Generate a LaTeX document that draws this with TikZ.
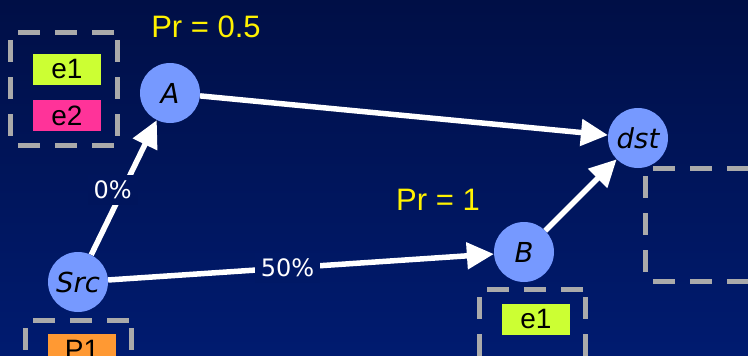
\documentclass[tikz,border=0pt]{standalone}
\usepackage{fontspec}
\setmainfont{Liberation Sans}
\newfontfamily\labelfont{DejaVu Sans}
\usetikzlibrary{arrows.meta}

\definecolor{bgtop}{RGB}{0,15,70}
\definecolor{bgbot}{RGB}{0,27,112}
\colorlet{bgmidA}{bgtop!47!bgbot}
\colorlet{bgmidB}{bgtop!25!bgbot}
\definecolor{hostblue}{RGB}{118,153,255}
\definecolor{tagone}{RGB}{204,255,51}
\definecolor{tagtwo}{RGB}{255,51,153}
\definecolor{tagp}{RGB}{255,153,51}
\definecolor{boxgray}{RGB}{170,170,170}

\tikzset{
  host/.style={circle, fill=hostblue, minimum size=60pt, inner sep=0pt,
    font=\labelfont\itshape\fontsize{27.5}{32}\selectfont},
  link/.style={white, line width=5.5pt, -{Triangle[length=27pt 0 0,width=26pt 0 0]}},
  pct/.style={text=white, inner sep=6pt, font=\labelfont\fontsize{24}{28}\selectfont},
  prob/.style={text=yellow, font=\fontsize{31}{36}\selectfont},
  tag/.style={minimum width=68pt, minimum height=31pt, inner sep=0pt,
    font=\fontsize{28}{32}\selectfont},
  grp/.style={draw=boxgray, line width=5pt, dash pattern=on 22pt off 15pt, dash phase=29pt},
}

% dashed group box, one side at a time so each side starts with a gap
\newcommand{\grpbox}[4]{%
  \draw[grp] (#1,#2) -- (#3,#2) (#3,#2) -- (#3,#4) (#1,#4) -- (#3,#4) (#1,#2) -- (#1,#4);}

\begin{document}
\begin{tikzpicture}[x=1pt, y=-1pt]
	% Background
	\shade[top color=bgtop, bottom color=bgbot] (0,0) rectangle (748,356);
	\useasboundingbox (0,0) rectangle (748,356);
	\clip (0,0) rectangle (748,356);
	
	% Groups
	\grpbox{10}{32}{117}{145}
	\grpbox{25}{320}{131}{394}
	\grpbox{479}{289}{585}{400}
	\grpbox{645}{168}{790}{281}
	
	% Tags
	\node[tag, fill=tagone] (e1a) at (67,69.5) {e1};
	\node[tag, fill=tagtwo] (e2a) at (67,115.5) {e2};
	\node[tag, fill=tagp] (p1) at (82,349.5) {P1};
	\node[tag, fill=tagone] (e1b) at (536,319.5) {e1};
	
	% Hosts
	\node[host] (a) at (170,93) {A};
	\node[host] (src) at (78,282) {Src};
	\node[host] (b) at (524,252) {B};
	\node[host] (dst) at (638,138) {dst};
	
	% Probabilities
	\node[prob] (pra) at (206,27) {Pr = 0.5};
	\node[prob] (prb) at (438,200) {Pr = 1};
	
	% Links
	\draw[link] (src) -- node[pct, fill=bgmidA, pos=0.48, xshift=-10pt] (p0) {0\%} (a);
	\draw[link] (src) -- node[pct, fill=bgmidB, pos=0.465] (p50) {50\%} (b);
	\draw[link] (a) -- (dst);
	\draw[link] (b) -- (dst);
\end{tikzpicture}
\end{document}
